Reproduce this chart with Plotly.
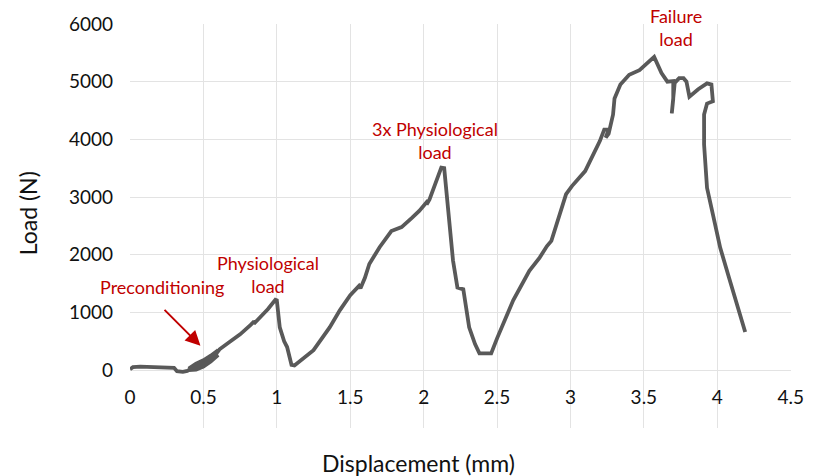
import plotly.graph_objects as go

# Displacement (mm) and Load (N)
disp = [0.00, 0.02, 0.07, 0.15, 0.25, 0.30, 0.32, 0.36, 0.39,
        0.40, 0.45, 0.50, 0.55, 0.60,
        0.55, 0.50, 0.45, 0.40,
        0.45, 0.50, 0.55, 0.60,
        0.55, 0.50, 0.45, 0.41,
        0.45, 0.50, 0.55, 0.61,
        0.68, 0.75, 0.82, 0.84, 0.85, 0.88, 0.94, 0.99, 1.00, 1.02,
        1.05, 1.07, 1.08, 1.10, 1.12, 1.18, 1.25, 1.36, 1.43, 1.50,
        1.56, 1.57, 1.60, 1.63, 1.70, 1.78, 1.85, 1.92, 1.97, 2.03,
        2.02, 2.04, 2.09, 2.12, 2.14, 2.16, 2.18, 2.20, 2.23, 2.27,
        2.31, 2.35, 2.38, 2.46, 2.50, 2.61, 2.72, 2.79, 2.84, 2.87,
        2.97, 3.01, 3.10, 3.20, 3.23, 3.26, 3.24, 3.26, 3.29, 3.30,
        3.34, 3.40, 3.47, 3.57, 3.62, 3.66, 3.70, 3.70, 3.69, 3.70,
        3.71, 3.74, 3.77, 3.79, 3.81, 3.87, 3.93, 3.96, 3.97, 3.93,
        3.91, 3.91, 3.93, 3.97, 4.02, 4.08, 4.14, 4.19]
load = [15, 50, 60, 50, 45, 40, -20, -30, -15,
        0, 10, 60, 150, 260,
        200, 115, 60, 25,
        110, 170, 250, 345,
        230, 145, 85, 40,
        40, 90, 160, 360,
        490, 620, 780, 830, 820, 900, 1060, 1220, 1210, 740,
        500, 400, 300, 90, 80, 200, 345, 740, 1040, 1300,
        1460, 1420, 1600, 1840, 2130, 2410, 2480, 2640, 2760, 2940,
        2870, 2960, 3280, 3510, 3500, 3000, 2470, 1900, 1430, 1400,
        740, 450, 290, 290, 550, 1210, 1720, 1950, 2150, 2240,
        3050, 3190, 3450, 3970, 4170, 4170, 4030, 4100, 4430, 4710,
        4950, 5120, 5200, 5430, 5150, 5000, 5010, 4700, 4450, 4750,
        4980, 5060, 5060, 5000, 4740, 4870, 4970, 4950, 4660, 4620,
        4430, 3910, 3160, 2700, 2120, 1600, 1100, 660]

x_ticks = [0, 0.5, 1, 1.5, 2, 2.5, 3, 3.5, 4, 4.5]
x_tick_text = ["0", "0.5", "1", "1.5", "2", "2.5", "3", "3.5", "4", "4.5"]
y_ticks = [-1000, 0, 1000, 2000, 3000, 4000, 5000, 6000]
y_tick_text = ["", "0", "1000", "2000", "3000", "4000", "5000", "6000"]

labels = ["Preconditioning", "Physiological<br>load", "3x Physiological<br>load", "Failure<br>load"]
label_x = [0.218, 0.94, 2.076, 3.72]
label_y = [1448, 1655, 3983, 5940]

RED = "#C00000"
FONT = "Lato"
TXT = "#111111"

fig = go.Figure()
fig.add_trace(go.Scatter(x=disp, y=load, mode="lines",
                         line=dict(color="#595959", width=3.8),
                         showlegend=False, hoverinfo="skip"))

grid = "#e3e3e3"
fig.update_layout(
    width=817, height=476,
    margin=dict(l=130, r=26, t=22, b=48),
    paper_bgcolor="white", plot_bgcolor="white",
    font=dict(family=FONT, color=TXT, size=19),
    xaxis=dict(range=[0, 4.502], tickvals=x_ticks, ticktext=x_tick_text,
               showgrid=True, gridcolor=grid, gridwidth=1, zeroline=False,
               showline=False, ticks="", anchor="free", position=0.11,
               tickfont=dict(size=19, family=FONT, color=TXT)),
    yaxis=dict(range=[-1004, 6000], tickvals=y_ticks, ticktext=y_tick_text,
               showgrid=True, gridcolor=grid, gridwidth=1, zeroline=False,
               showline=False, ticks="", ticklabelstandoff=16,
               tickfont=dict(size=19, family=FONT, color=TXT)),
)

for t, lx, ly in zip(labels, label_x, label_y):
    fig.add_annotation(x=lx, y=ly, text=t, showarrow=False,
                       font=dict(color=RED, size=18, family=FONT),
                       xanchor="center", yanchor="middle")

# arrow pointing to the preconditioning cycles
fig.add_annotation(x=0.48, y=420, ax=0.225, ay=1070, axref="x", ayref="y",
                   xref="x", yref="y", text="", showarrow=True,
                   arrowhead=2, arrowsize=1.5, arrowwidth=2, arrowcolor=RED)

# axis titles
fig.add_annotation(x=0.436, y=-0.086, xref="paper", yref="paper",
                   text="Displacement (mm)", showarrow=False,
                   font=dict(size=23, family=FONT, color=TXT),
                   xanchor="center", yanchor="middle")
fig.add_annotation(x=-0.154, y=0.532, xref="paper", yref="paper",
                   text="Load (N)", showarrow=False, textangle=-90,
                   font=dict(size=23, family=FONT, color=TXT),
                   xanchor="center", yanchor="middle")

fig.write_html("out.html")
